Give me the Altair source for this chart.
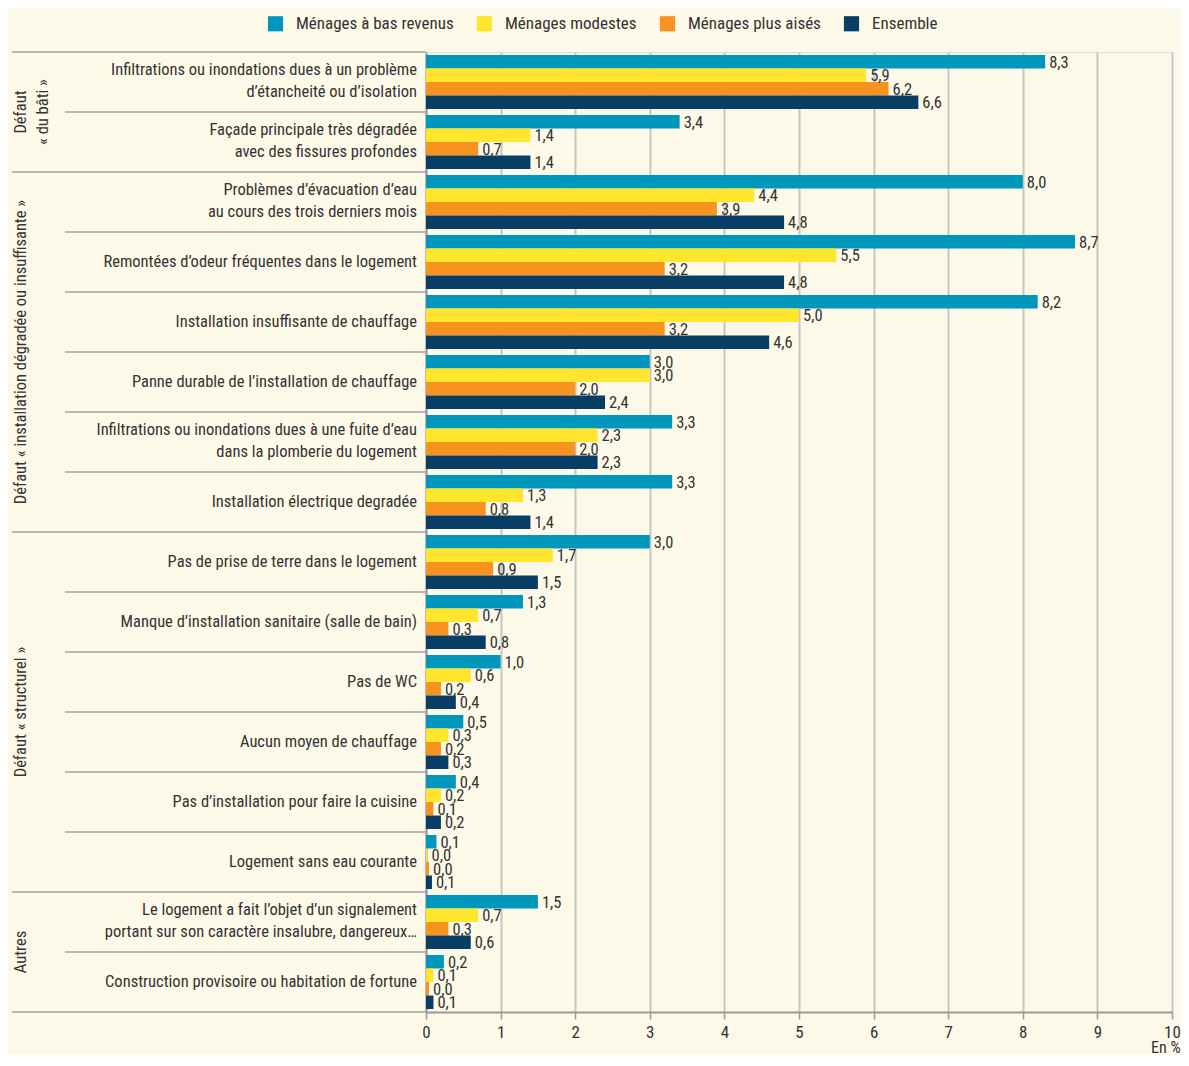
import altair as alt
import pandas as pd

categories = [
    "Infiltrations ou inondations dues à un problème|d’étancheité ou d’isolation",
    "Façade principale très dégradée|avec des fissures profondes",
    "Problèmes d’évacuation d’eau|au cours des trois derniers mois",
    "Remontées d’odeur fréquentes dans le logement",
    "Installation insuffisante de chauffage",
    "Panne durable de l’installation de chauffage",
    "Infiltrations ou inondations dues à une fuite d’eau|dans la plomberie du logement",
    "Installation électrique degradée",
    "Pas de prise de terre dans le logement",
    "Manque d’installation sanitaire (salle de bain)",
    "Pas de WC",
    "Aucun moyen de chauffage",
    "Pas d’installation pour faire la cuisine",
    "Logement sans eau courante",
    "Le logement a fait l’objet d’un signalement|portant sur son caractère insalubre, dangereux…",
    "Construction provisoire ou habitation de fortune",
]
group_of = [0, 0, 1, 1, 1, 1, 1, 1, 2, 2, 2, 2, 2, 2, 3, 3]
group_labels = [
    "Défaut|« du bâti »",
    "Défaut « installation dégradée ou insuffisante »",
    "Défaut « structurel »",
    "Autres",
]
group_anchor = [1, 5, 11, 15]  # category whose top edge is the group's middle

series = ["Ménages à bas revenus", "Ménages modestes", "Ménages plus aisés", "Ensemble"]
bas_revenus = [8.3, 3.4, 8.0, 8.7, 8.2, 3.0, 3.3, 3.3, 3.0, 1.3, 1.0, 0.5, 0.4, 0.14, 1.5, 0.24]
modestes = [5.9, 1.4, 4.4, 5.5, 5.0, 3.0, 2.3, 1.3, 1.7, 0.7, 0.6, 0.3, 0.2, 0.02, 0.7, 0.1]
aises = [6.2, 0.7, 3.9, 3.2, 3.2, 2.0, 2.0, 0.8, 0.9, 0.3, 0.2, 0.2, 0.1, 0.04, 0.3, 0.04]
ensemble = [6.6, 1.4, 4.8, 4.8, 4.6, 2.4, 2.3, 1.4, 1.5, 0.8, 0.4, 0.3, 0.2, 0.08, 0.6, 0.1]
colors = ["#0097bd", "#ffe52c", "#f7931e", "#083e66"]
x_ticks = list(range(0, 11))

FONT = "Liberation Sans Narrow, Roboto Condensed, DejaVu Sans Condensed, sans-serif"
TXT = "#333333"
LINE = "#a3a3a3"

rows = []
for s, vals in zip(series, [bas_revenus, modestes, aises, ensemble]):
    for c, v in zip(categories, vals):
        rows.append({"cat": c, "series": s, "value": v})
df = pd.DataFrame(rows)

cat_df = pd.DataFrame({"cat": categories,
                       "group_start": [i == 0 or group_of[i] != group_of[i - 1] for i in range(len(categories))],
                       "multi": ["|" in c for c in categories]})
grp_df = pd.DataFrame({"cat": [categories[i] for i in group_anchor], "label": group_labels})
last_df = pd.DataFrame({"cat": [categories[-1]]})

W, H = 746, 960

y_enc = alt.Y("cat:N", sort=categories,
              scale=alt.Scale(paddingInner=0, paddingOuter=0),
              axis=alt.Axis(labels=False, ticks=False, title=None, grid=False,
                            domainColor="#999999", domainWidth=2))
yoff = alt.YOffset("series:N", sort=series, scale=alt.Scale(paddingOuter=0.22, paddingInner=0))

bars = alt.Chart(df).mark_bar().encode(
    x=alt.X("value:Q", scale=alt.Scale(domain=[0, 10], nice=False),
            axis=alt.Axis(values=x_ticks, format="d", grid=True, gridColor="#c6c6c6", gridWidth=2,
                          domainColor="#999999", domainWidth=2, tickColor="#999999", tickSize=7,
                          tickWidth=1.5, labelFontSize=17, labelColor=TXT, labelPadding=5,
                          labelFlush=False,
                          title="En %", titleX=754, titleY=35, titleAlign="right",
                          titleBaseline="middle", titleFontWeight="normal", titleFontSize=16,
                          titleColor=TXT)),
    y=y_enc,
    yOffset=yoff,
    color=alt.Color("series:N", sort=series, scale=alt.Scale(domain=series, range=colors),
                    legend=alt.Legend(orient="none", legendX=-159, legendY=-37, direction="horizontal",
                                      title=None, symbolType="square", symbolSize=230,
                                      symbolStrokeWidth=0, labelFontSize=17, labelColor=TXT,
                                      columnPadding=22, labelOffset=12, padding=0)),
)

vlabels = alt.Chart(df).transform_calculate(
    lab="replace(format(datum.value, '.1f'), '.', ',')"
).mark_text(align="left", baseline="middle", dx=4, dy=1, fontSize=16.5, color=TXT).encode(
    x="value:Q", y=y_enc, yOffset=yoff, text="lab:N")

cat_single = alt.Chart(cat_df).transform_filter("!datum.multi").mark_text(
    align="right", baseline="middle", fontSize=16.5, color=TXT).encode(
    x=alt.value(-9), y=y_enc, text="cat:N")
cat_multi = alt.Chart(cat_df).transform_filter("datum.multi").mark_text(
    align="right", baseline="middle", lineBreak="|", fontSize=16.5, lineHeight=22, dy=-12,
    color=TXT).encode(x=alt.value(-9), y=y_enc, text="cat:N")

sep_group = alt.Chart(cat_df).transform_filter("datum.group_start").mark_rule(
    color=LINE, strokeWidth=1.5).encode(
    x=alt.value(-414), x2=alt.value(0), y=alt.Y("cat:N", sort=categories, bandPosition=0))
sep_inner = alt.Chart(cat_df).transform_filter("!datum.group_start").mark_rule(
    color=LINE, strokeWidth=1.5).encode(
    x=alt.value(-361), x2=alt.value(0), y=alt.Y("cat:N", sort=categories, bandPosition=0))
sep_bottom = alt.Chart(last_df).mark_rule(color=LINE, strokeWidth=1.5).encode(
    x=alt.value(-414), x2=alt.value(0), y=alt.Y("cat:N", sort=categories, bandPosition=1))

grp_text = alt.Chart(grp_df).mark_text(
    angle=270, align="center", baseline="middle", lineBreak="|", fontSize=16.5, lineHeight=22,
    color=TXT).encode(x=alt.value(-405), y=alt.Y("cat:N", sort=categories, bandPosition=0),
                      text="label:N")

chart = alt.layer(bars, vlabels, cat_single, cat_multi, sep_group, sep_inner, sep_bottom,
                  grp_text).properties(
    width=W, height=H, background="#fdf9e9",
    padding={"left": 3, "top": 7, "right": 0, "bottom": 0},
).configure_view(stroke=None).configure(font=FONT)

chart.save("out.html", embed_options={"renderer": "svg", "actions": False})
